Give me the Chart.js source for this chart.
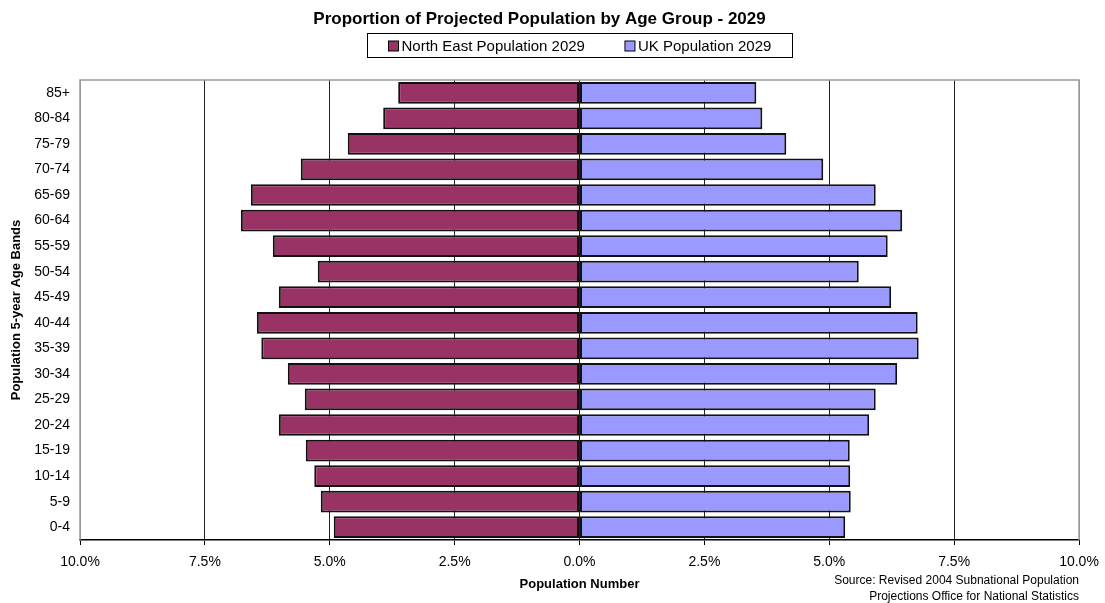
<!DOCTYPE html>
<html>
<head>
<meta charset="utf-8">
<script src="https://cdn.jsdelivr.net/npm/chart.js@4.4.1/dist/chart.umd.min.js"></script>
<style>
  html, body { margin: 0; padding: 0; background: #fff; }
</style>
</head>
<body>
<canvas id="pyramid" width="1105" height="603"></canvas>
<script>
// --- data (percent of population), bottom band first ---
const ageBands = ["0-4", "5-9", "10-14", "15-19", "20-24", "25-29", "30-34", "35-39", "40-44",
  "45-49", "50-54", "55-59", "60-64", "65-69", "70-74", "75-79", "80-84", "85+"];
const northEast2029 = [4.92, 5.18, 5.31, 5.48, 6.02, 5.50, 5.84, 6.37, 6.46,
  6.02, 5.24, 6.14, 6.78, 6.58, 5.58, 4.64, 3.93, 3.63];
const uk2029 = [5.32, 5.43, 5.42, 5.41, 5.80, 5.93, 6.36, 6.79, 6.77,
  6.24, 5.59, 6.17, 6.46, 5.93, 4.88, 4.14, 3.66, 3.54];
const xTicks = [-10, -7.5, -5, -2.5, 0, 2.5, 5, 7.5, 10];
const seriesNames = ["North East Population 2029", "UK Population 2029"];
const sourceLines = ["Source: Revised 2004 Subnational Population", "Projections Office for National Statistics"];

const FONT = "'Liberation Sans', Arial, Helvetica, sans-serif";
Chart.defaults.font.family = FONT;
Chart.defaults.color = "#000";

// frame round the plot (grey top / left / right edges)
const plotFrame = {
  id: "plotFrame",
  beforeDatasetsDraw(chart) {
    const { ctx, chartArea: a } = chart;
    ctx.save();
    ctx.strokeStyle = "#9a9a9a";
    ctx.lineWidth = 1.5;
    ctx.beginPath();
    ctx.moveTo(a.left, a.bottom);
    ctx.lineTo(a.left, a.top);
    ctx.lineTo(a.right, a.top);
    ctx.lineTo(a.right, a.bottom);
    ctx.stroke();
    ctx.restore();
  }
};

// boxed legend under the title, plus the source note
const boxLegend = {
  id: "boxLegend",
  afterDraw(chart) {
    const { ctx, chartArea: a } = chart;
    const ds = chart.data.datasets;
    ctx.save();
    ctx.font = "15px " + FONT;
    ctx.textBaseline = "middle";
    const sq = 10, gapTxt = 3, gapItem = 40, pad = 21, y = 46;
    const widths = ds.map(d => sq + gapTxt + ctx.measureText(d.label).width);
    const total = pad * 2 + widths.reduce((s, w) => s + w, 0) + gapItem * (ds.length - 1);
    const cx = (a.left + a.right) / 2;
    const left = Math.round(cx - total / 2) + 0.5;
    ctx.strokeStyle = "#000";
    ctx.lineWidth = 1;
    ctx.strokeRect(left, 33.5, Math.round(total), 24);
    let x = left + pad;
    ds.forEach((d, i) => {
      ctx.fillStyle = d.backgroundColor;
      ctx.fillRect(x, y - 5, sq, sq);
      ctx.strokeRect(x, y - 5, sq, sq);
      ctx.fillStyle = "#000";
      ctx.textAlign = "left";
      ctx.fillText(d.label, x + sq + gapTxt, y + 0.5);
      x += widths[i] + gapItem;
    });
    ctx.font = "12px " + FONT;
    ctx.textAlign = "right";
    sourceLines.forEach((t, i) => ctx.fillText(t, a.right, 581 + i * 16));
    ctx.restore();
  }
};

new Chart(document.getElementById("pyramid"), {
  type: "bar",
  data: {
    labels: ageBands,
    datasets: [
      { label: seriesNames[0], data: northEast2029.map(v => -v), backgroundColor: "#993366",
        borderColor: "#111", borderWidth: 2, borderSkipped: false,
        barPercentage: 0.85, categoryPercentage: 1 },
      { label: seriesNames[1], data: uk2029, backgroundColor: "#9999ff",
        borderColor: "#111", borderWidth: 2, borderSkipped: false,
        barPercentage: 0.85, categoryPercentage: 1 }
    ]
  },
  options: {
    indexAxis: "y",
    responsive: false,
    animation: false,
    layout: { padding: { top: 0, right: 26, bottom: 0, left: 0 } },
    plugins: {
      legend: { display: false },
      tooltip: { enabled: false },
      title: {
        display: true,
        text: "Proportion of Projected Population by Age Group - 2029",
        font: { size: 17, weight: "bold" },
        color: "#000",
        padding: { top: 9, bottom: 50.6 }
      }
    },
    scales: {
      x: {
        stacked: true,
        min: -10, max: 10,
        afterBuildTicks: s => { s.ticks = xTicks.map(v => ({ value: v })); },
        afterFit: s => { s.height = 63; s.paddingLeft = 0; s.paddingRight = 0; },
        grid: {
          color: c => (Math.abs(c.tick.value) === 10 ? "#9a9a9a" : "#222"),
          lineWidth: 1,
          tickLength: 5,
          tickColor: "#000"
        },
        border: { color: "#000", width: 1.5 },
        ticks: {
          font: { size: 14 },
          color: "#000",
          padding: 9,
          maxRotation: 0,
          autoSkip: false,
          callback: v => Math.abs(v).toFixed(1) + "%"
        },
        title: {
          display: true,
          text: "Population Number",
          font: { size: 13, weight: "bold" },
          color: "#000",
          padding: { top: 0, bottom: 11 }
        }
      },
      y: {
        stacked: true,
        reverse: true,
        afterFit: s => { s.width = 80; },
        grid: { display: false, drawTicks: false },
        border: { display: false },
        ticks: { font: { size: 14 }, color: "#000", padding: 10, autoSkip: false },
        title: {
          display: true,
          text: "Population 5-year Age Bands",
          font: { size: 13, weight: "bold" },
          color: "#000",
          padding: { top: 9, bottom: 0 }
        }
      }
    }
  },
  plugins: [plotFrame, boxLegend]
});
</script>
</body>
</html>
